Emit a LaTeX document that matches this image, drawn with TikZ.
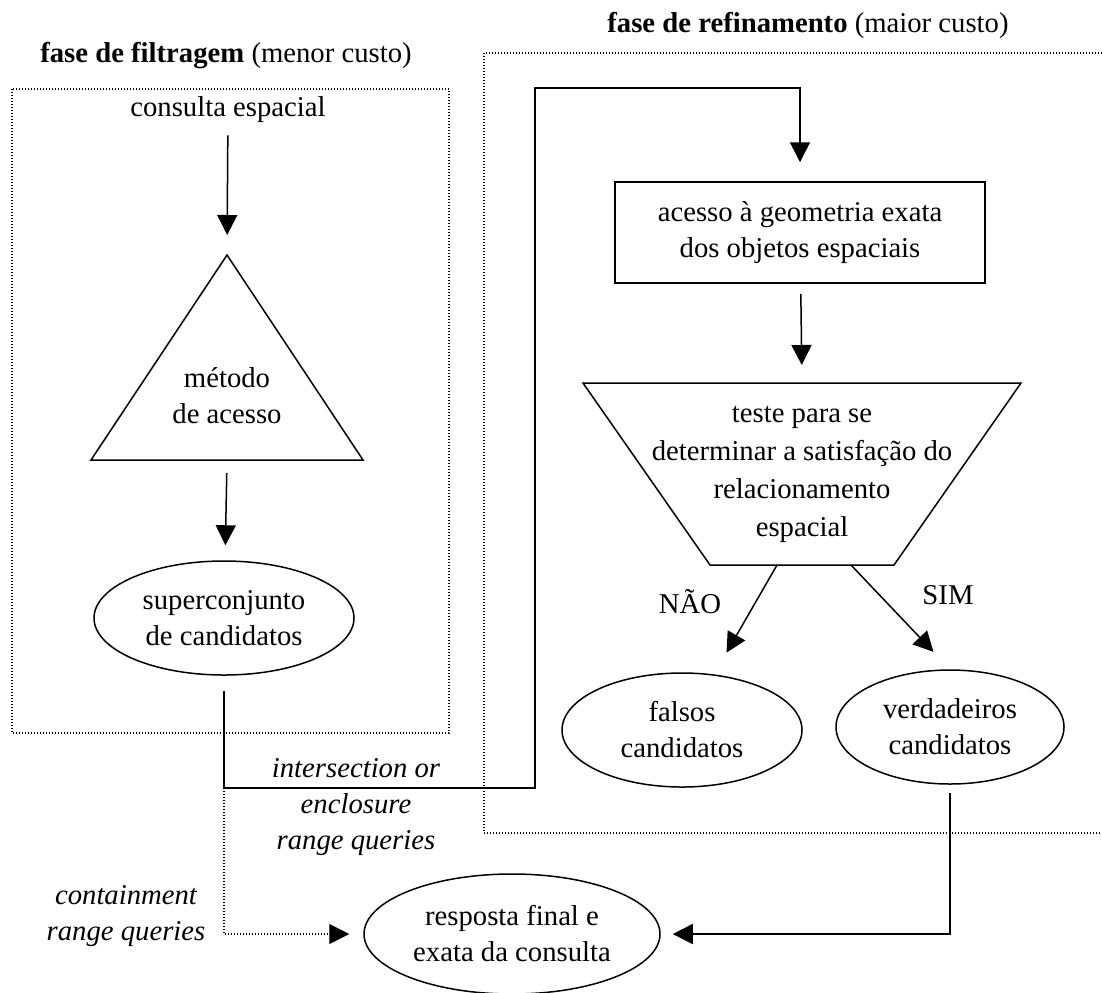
\documentclass[tikz,border=0pt]{standalone}
\usepackage{fontspec}
\setmainfont{Liberation Serif}
\usetikzlibrary{arrows.meta,shapes.geometric}

\tikzset{
  lbl/.style={inner sep=0pt, align=center, font=\fontsize{14.35pt}{18pt}\selectfont},
  itl/.style={lbl, font=\fontsize{14.35pt}{18pt}\selectfont\itshape},
  shp/.style={draw, line width=0.75pt},
  oval/.style={lbl, shp, ellipse, inner sep=0pt},
  box/.style={lbl, shp, rectangle},
  conn/.style={line width=0.75pt, -{Triangle[length=10pt,width=10pt]}},
  plain/.style={line width=0.75pt},
  dots/.style={line width=0.6pt, dash pattern=on 0.5pt off 1pt},
  dotconn/.style={dots, -{Triangle[length=10pt,width=10pt,line width=0.6pt,sep=0pt]}}
}

\begin{document}
\begin{tikzpicture}[x=0.5pt,y=-0.5pt]
\useasboundingbox (0,0) rectangle (1102,992);

% phase frames
\draw[dots] (12,89) rectangle (449,733);
\draw[dots] (1102,53) -- (484,53) -- (484,833) -- (1102,833);

% headings
\node[lbl] (hfilt) at (226,56) {\textbf{fase de filtragem} (menor custo)};
\node[lbl] (href) at (808,25) {\textbf{fase de refinamento} (maior custo)};

% filtering phase
\node[lbl] (consulta) at (228,110) {consulta espacial};
\coordinate (triTop) at (227,255);
\coordinate (triL) at (91,460);
\coordinate (triR) at (363,460);
\coordinate (triBase) at (227,460);
\draw[shp] (triTop) -- (triR) -- (triL) -- cycle;
\node[lbl] (metodo) at (227,396) {método\\de acesso};
\node[oval, minimum width=130pt, minimum height=57pt] (ell1) at (224,618) {superconjunto\\de candidatos};

\draw[conn, shorten <=6pt, shorten >=10pt] (consulta) -- (triTop);
\draw[conn, shorten <=6.5pt, shorten >=7.5pt] (triBase) -- (ell1);

% refinement phase
\node[box, minimum width=185pt, minimum height=50.5pt] (acesso) at (800,232.5) {acesso à geometria exata\\dos objetos espaciais};
\coordinate (tzTL) at (583,383);
\coordinate (tzTR) at (1021,383);
\coordinate (tzBR) at (894,565);
\coordinate (tzBL) at (710,565);
\draw[shp] (tzTL) -- (tzTR) -- (tzBR) -- (tzBL) -- cycle;
\node[lbl, font=\fontsize{14.35pt}{19pt}\selectfont] (teste) at (802,474) {teste para se\\determinar a satisfação do\\relacionamento\\espacial};
\coordinate (tzTop) at (802,383);
\coordinate (tzNao) at (777,565);
\coordinate (tzSim) at (851,565);

\node[oval, minimum width=120pt, minimum height=57pt] (falsos) at (682,730) {falsos\\candidatos};
\node[oval, minimum width=114pt, minimum height=57pt] (verd) at (950,727) {verdadeiros\\candidatos};
\node[oval, minimum width=148pt, minimum height=60pt] (resp) at (512,934) {resposta final e\\exata da consulta};

\draw[conn, shorten <=5pt, shorten >=9pt] (acesso) -- (tzTop);
\draw[conn, shorten >=12.5pt] (tzNao) -- (falsos);
\draw[conn, shorten >=12pt] (tzSim) -- (verd.north);
\node[lbl] (nao) at (690,602) {NÃO};
\node[lbl] (sim) at (948,595) {SIM};

% query routes
\coordinate (j1) at (224,788);
\coordinate (j2) at (535,788);
\coordinate (j3) at (535,88);
\coordinate (j4) at (800,88);
\draw[conn, shorten <=7.5pt, shorten >=9.5pt] (ell1.south) -- (j1) -- (j2) -- (j3) -- (j4) -- (acesso.north);
\draw[dotconn, shorten >=7pt] (j1) -- (j1 |- resp.west) -- (resp.west);
\draw[conn, shorten <=4pt, shorten >=6pt] (verd.south) -- (verd.south |- resp.east) -- (resp.east);

\node[itl] (inter) at (356,807) {intersection or\\enclosure\\range queries};
\node[itl] (cont) at (126,916) {containment\\range queries};
\end{tikzpicture}
\end{document}
